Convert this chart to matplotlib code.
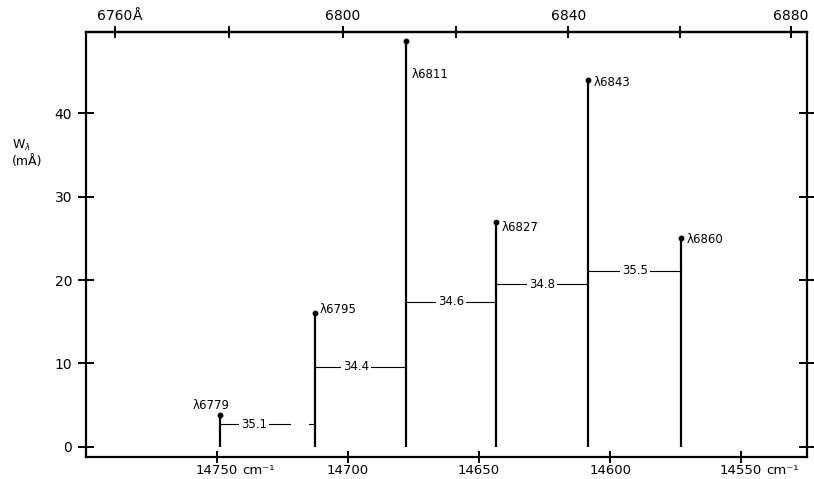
import matplotlib
matplotlib.use('Agg')
import matplotlib.pyplot as plt

# ---------------- data ----------------
line_labels = ['λ6779', 'λ6795', 'λ6811', 'λ6827', 'λ6843', 'λ6860']
wavenumbers = [14749.0, 14712.5, 14677.8, 14643.5, 14608.3, 14572.8]   # cm^-1
widths = [3.8, 16.0, 48.7, 27.0, 44.0, 25.0]                          # mÅ
spacing_labels = ['35.1', '34.4', '34.6', '34.8', '35.5']
spacing_heights = [2.7, 9.6, 17.4, 19.5, 21.1]
bottom_ticks = [14750, 14700, 14650, 14600, 14550]
top_ticks = [6760, 6780, 6800, 6820, 6840, 6860, 6880]                # Å (air)
top_tick_labels = ['6760', '', '6800', '', '6840', '', '6880']
y_ticks = [0, 10, 20, 30, 40]

N_AIR = 1.00027

def nu2lam(nu):
    return 1e8 / (N_AIR * nu)

def lam2nu(lam):
    return 1e8 / (N_AIR * lam)

# ---------------- figure ----------------
plt.rcParams['font.family'] = ['DejaVu Sans']
W, H = 814, 479
fig = plt.figure(figsize=(W / 100, H / 100), dpi=100)
ax = fig.add_axes([86 / W, 1 - 456.7 / H, (806.7 - 86) / W, (456.7 - 31.7) / H])
ax.set_xlim(14800, 14525)
ax.set_ylim(-1.2, 49.8)

for s in ax.spines.values():
    s.set_linewidth(1.6)

# spectral lines
ax.vlines(wavenumbers, 0, widths, color='black', lw=1.6)
ax.plot(wavenumbers, widths, 'o', ms=3.2, color='black')

# line labels (offsets in points)
label_style = [
    dict(xytext=(-6, 2), ha='center', va='bottom'),
    dict(xytext=(3, 3), ha='left', va='center'),
    dict(xytext=(4, -24), ha='left', va='center'),
    dict(xytext=(4, -4), ha='left', va='center'),
    dict(xytext=(4, -2), ha='left', va='center'),
    dict(xytext=(4, -1), ha='left', va='center'),
]
for x, y, lab, st in zip(wavenumbers, widths, line_labels, label_style):
    ax.annotate(lab, xy=(x, y), textcoords='offset points', fontsize=8.5, **st)

# spacing connectors
seg_fracs = [[(0, 0.74), (0.93, 1.0)], [(0, 1)], [(0, 1)], [(0, 1)], [(0, 1)]]
text_fracs = [0.36, 0.45, 0.5, 0.5, 0.5]
for i, (lab, yy) in enumerate(zip(spacing_labels, spacing_heights)):
    xa, xb = wavenumbers[i], wavenumbers[i + 1]
    for f0, f1 in seg_fracs[i]:
        ax.plot([xa + (xb - xa) * f0, xa + (xb - xa) * f1], [yy, yy],
                color='black', lw=0.8)
    xt = xa + (xb - xa) * text_fracs[i]
    ax.text(xt, yy, lab, ha='center', va='center', fontsize=8.5,
            bbox=dict(facecolor='white', edgecolor='none', pad=1.5))

# y axis
ax.set_yticks(y_ticks)
ax.tick_params(axis='y', which='both', left=True, right=True, direction='inout',
               length=12, width=1.4, labelsize=10, pad=4)

# bottom axis
ax.set_xticks(bottom_ticks)
ax.set_xticklabels([str(t) for t in bottom_ticks])
ax.tick_params(axis='x', which='both', top=False, bottom=True, direction='inout',
               length=8, width=1.4, labelsize=9.5, pad=1)

# top axis (wavelength)
sec = ax.secondary_xaxis('top', functions=(nu2lam, lam2nu))
sec.set_xticks(top_ticks)
sec.set_xticklabels(top_tick_labels)
sec.tick_params(direction='inout', length=8, width=1.4, labelsize=10, pad=2)
sec.spines['top'].set_linewidth(1.6)

# y label
fig.text(12 / W, 1 - 145 / H, r'W$_{\lambda}$', fontsize=9, ha='left', va='center')
fig.text(12 / W, 1 - 162 / H, '(mÅ)', fontsize=9, ha='left', va='center')

# unit suffixes attached to tick labels
fig.canvas.draw()
renderer = fig.canvas.get_renderer()

def add_suffix(tick_label, suffix, gap, size):
    bb = tick_label.get_window_extent(renderer)
    fig.text((bb.x1 + gap) / W, bb.y0 / H, suffix, fontsize=size,
             ha='left', va='bottom')

xl = ax.get_xticklabels()
add_suffix(xl[0], 'cm⁻¹', 4, 9.5)
add_suffix(xl[-1], 'cm⁻¹', 4, 9.5)
tl = sec.get_xticklabels()
add_suffix(tl[0], 'Å', 0, 10)

fig.savefig('out.png', dpi=100)
